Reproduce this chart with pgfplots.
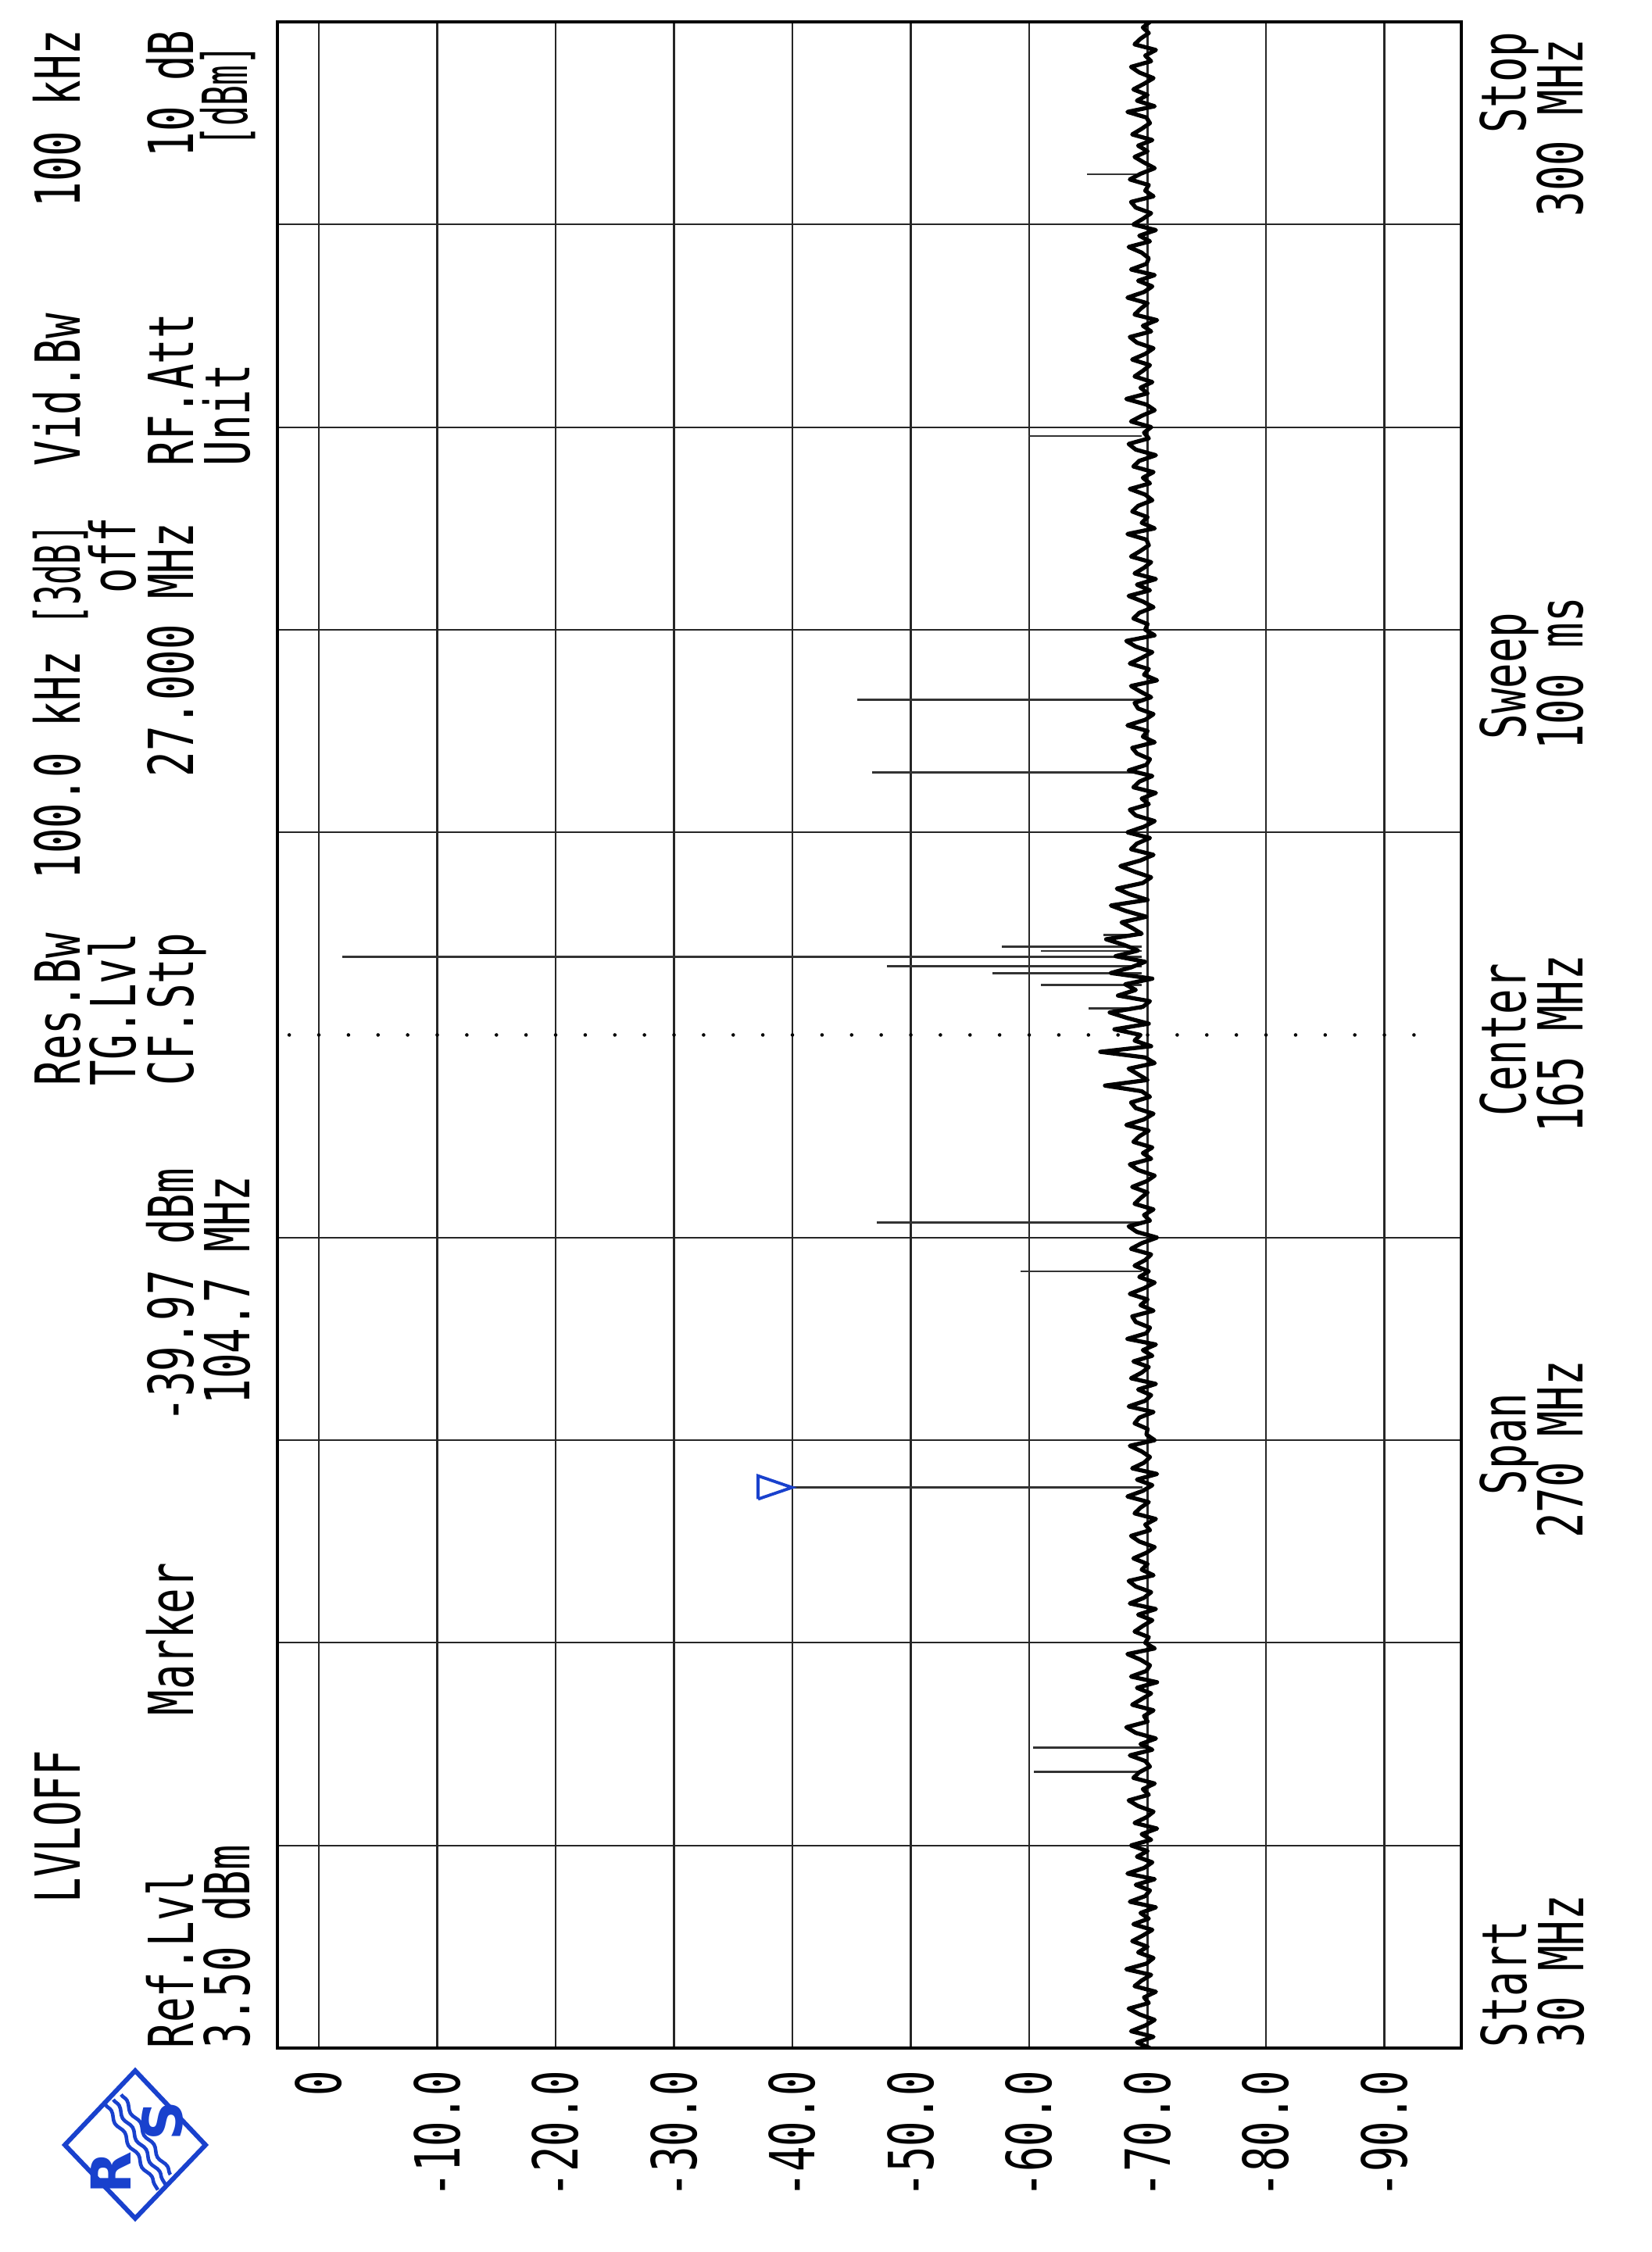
\documentclass[border=0pt]{standalone}
\usepackage{fontspec}
\usepackage{pgfplots}
\pgfplotsset{compat=1.18}
\usepackage{pgfplotstable}
\usetikzlibrary{decorations.pathmorphing}
\newfontfamily\rsfont[FakeStretch=0.68]{DejaVu Sans Mono}
\newfontfamily\rsnarrow[FakeStretch=0.54]{DejaVu Sans Mono}
\newfontfamily\logofont{DejaVu Sans}
\newcommand\hfont{\rsfont\fontsize{22.6pt}{24pt}\selectfont}
\newcommand\nfont{\rsnarrow\fontsize{22.6pt}{24pt}\selectfont}
\definecolor{rsblue}{RGB}{25,65,205}

\pgfplotstableread[row sep=\\]{
f L\\
30 -70.2\\ 30.75 -69.1\\ 31.5 -70.5\\ 32.25 -68.6\\ 33 -69.8\\ 33.75 -70.6\\ 34.5 -69.3\\ 35.25 -68.4\\ 36 -70.1\\ 36.75 -69.7\\
37.5 -70.7\\ 38.25 -68.9\\ 39 -69.5\\ 39.75 -70.3\\ 40.5 -68.2\\ 41.25 -69.9\\ 42 -70.5\\ 42.75 -69.2\\ 43.5 -70.0\\ 44.25 -68.7\\
45 -69.6\\ 45.75 -70.4\\ 46.5 -68.8\\ 47.25 -70.1\\ 48 -69.4\\ 48.75 -70.7\\ 49.5 -68.5\\ 50.25 -69.8\\ 51 -70.2\\ 51.75 -69.0\\
52.5 -70.6\\ 53.25 -68.3\\ 54 -69.7\\ 54.75 -70.4\\ 55.5 -69.1\\ 56.25 -70.0\\ 57 -68.6\\ 57.75 -70.3\\ 58.5 -69.5\\ 59.25 -70.8\\
60 -68.9\\ 60.75 -69.9\\ 61.5 -70.5\\ 62.25 -69.2\\ 63 -68.4\\ 63.75 -70.1\\ 64.5 -69.6\\ 65.25 -70.6\\ 66 -68.8\\ 66.75 -69.3\\
67.5 -70.2\\ 68.25 -69.8\\ 69 -68.5\\ 69.75 -70.4\\ 70.5 -69.4\\ 71.25 -70.7\\ 72 -69.0\\ 72.75 -68.2\\ 73.5 -70.0\\ 74.25 -69.7\\
75 -70.5\\ 75.75 -68.7\\ 76.5 -69.5\\ 77.25 -70.3\\ 78 -69.1\\ 78.75 -70.8\\ 79.5 -68.6\\ 80.25 -69.9\\ 81 -70.2\\ 81.75 -69.4\\
82.5 -68.3\\ 83.25 -70.6\\ 84 -69.8\\ 84.75 -70.1\\ 85.5 -68.9\\ 86.25 -69.6\\ 87 -70.4\\ 87.75 -69.2\\ 88.5 -70.7\\ 89.25 -68.5\\
90 -69.7\\ 90.75 -70.3\\ 91.5 -69.0\\ 92.25 -68.4\\ 93 -70.5\\ 93.75 -69.5\\ 94.5 -70.0\\ 95.25 -68.8\\ 96 -69.9\\ 96.75 -70.6\\
97.5 -69.3\\ 98.25 -68.6\\ 99 -70.2\\ 99.75 -69.8\\ 100.5 -70.7\\ 101.25 -68.9\\ 102 -69.4\\ 102.75 -70.1\\ 103.5 -68.3\\ 104.25 -69.6\\
105 -70.4\\ 105.75 -69.1\\ 106.5 -70.8\\ 107.25 -68.7\\ 108 -69.7\\ 108.75 -70.2\\ 109.5 -69.5\\ 110.25 -68.5\\ 111 -70.6\\ 111.75 -69.9\\
112.5 -70.0\\ 113.25 -68.9\\ 114 -69.3\\ 114.75 -70.5\\ 115.5 -68.4\\ 116.25 -69.8\\ 117 -70.3\\ 117.75 -69.2\\ 118.5 -70.7\\ 119.25 -68.6\\
120 -69.5\\ 120.75 -70.1\\ 121.5 -68.8\\ 122.25 -70.4\\ 123 -69.6\\ 123.75 -70.7\\ 124.5 -68.3\\ 125.25 -69.9\\ 126 -70.2\\ 126.75 -69.0\\
127.5 -68.7\\ 128.25 -70.5\\ 129 -69.4\\ 129.75 -70.0\\ 130.5 -68.5\\ 131.25 -69.7\\ 132 -70.6\\ 132.75 -69.3\\ 133.5 -70.1\\ 134.25 -68.9\\
135 -69.8\\ 135.75 -70.3\\ 136.5 -68.6\\ 137.25 -69.5\\ 138 -70.8\\ 138.75 -69.1\\ 139.5 -68.4\\ 140.25 -70.2\\ 141 -69.7\\ 141.75 -70.5\\
142.5 -68.9\\ 143.25 -69.4\\ 144 -70.0\\ 144.75 -68.7\\ 145.5 -69.9\\ 146.25 -70.6\\ 147 -69.2\\ 147.75 -68.5\\ 148.5 -70.3\\ 149.25 -69.6\\
150 -70.4\\ 150.75 -68.8\\ 151.5 -69.3\\ 152.25 -70.1\\ 153 -68.2\\ 153.75 -69.7\\ 154.5 -70.5\\ 155.25 -69.0\\ 156 -68.6\\ 156.75 -70.2\\
157.5 -69.5\\ 158.25 -66.4\\ 159 -70.0\\ 159.75 -69.2\\ 160.5 -68.4\\ 161.25 -70.6\\ 162 -69.8\\ 162.75 -66.0\\ 163.5 -70.3\\ 164.25 -68.9\\
165 -69.4\\ 165.75 -67.2\\ 166.5 -70.1\\ 167.25 -68.3\\ 168 -66.8\\ 168.75 -69.6\\ 169.5 -70.2\\ 170.25 -67.5\\ 171 -69.0\\ 171.75 -68.1\\
172.5 -70.4\\ 173.25 -66.9\\ 174 -68.6\\ 174.75 -69.8\\ 175.5 -67.3\\ 176.25 -69.2\\ 177 -68.0\\ 177.75 -66.5\\ 178.5 -69.5\\ 179.25 -68.7\\
180 -67.8\\ 180.75 -69.9\\ 181.5 -68.2\\ 182.25 -66.9\\ 183 -70.0\\ 183.75 -68.5\\ 184.5 -67.4\\ 185.25 -69.6\\ 186 -70.3\\ 186.75 -68.9\\
187.5 -67.7\\ 188.25 -69.4\\ 189 -70.5\\ 189.75 -68.6\\ 190.5 -69.1\\ 191.25 -70.2\\ 192 -68.3\\ 192.75 -69.7\\ 193.5 -70.6\\ 194.25 -69.0\\
195 -68.5\\ 195.75 -70.1\\ 196.5 -69.5\\ 197.25 -70.7\\ 198 -68.8\\ 198.75 -69.3\\ 199.5 -70.4\\ 200.25 -68.4\\ 201 -69.9\\ 201.75 -70.2\\
202.5 -69.1\\ 203.25 -68.7\\ 204 -70.6\\ 204.75 -69.6\\ 205.5 -70.0\\ 206.25 -68.3\\ 207 -69.8\\ 207.75 -70.5\\ 208.5 -69.2\\ 209.25 -68.9\\
210 -70.3\\ 210.75 -69.4\\ 211.5 -68.6\\ 212.25 -70.8\\ 213 -69.7\\ 213.75 -70.1\\ 214.5 -68.5\\ 215.25 -69.5\\ 216 -70.4\\ 216.75 -69.0\\
217.5 -68.2\\ 218.25 -70.6\\ 219 -69.8\\ 219.75 -70.0\\ 220.5 -68.8\\ 221.25 -69.3\\ 222 -70.5\\ 222.75 -69.6\\ 223.5 -68.4\\ 224.25 -70.2\\
225 -69.1\\ 225.75 -70.7\\ 226.5 -68.9\\ 227.25 -69.7\\ 228 -70.3\\ 228.75 -68.6\\ 229.5 -69.4\\ 230.25 -70.1\\ 231 -69.9\\ 231.75 -68.3\\
232.5 -70.6\\ 233.25 -69.5\\ 234 -70.0\\ 234.75 -68.7\\ 235.5 -69.2\\ 236.25 -70.4\\ 237 -69.8\\ 237.75 -68.5\\ 238.5 -70.2\\ 239.25 -69.6\\
240 -70.5\\ 240.75 -68.8\\ 241.5 -69.3\\ 242.25 -70.7\\ 243 -69.0\\ 243.75 -68.4\\ 244.5 -70.1\\ 245.25 -69.7\\ 246 -70.3\\ 246.75 -68.6\\
247.5 -69.5\\ 248.25 -70.6\\ 249 -69.9\\ 249.75 -68.2\\ 250.5 -70.0\\ 251.25 -69.4\\ 252 -70.4\\ 252.75 -68.9\\ 253.5 -69.6\\ 254.25 -70.2\\
255 -68.7\\ 255.75 -69.8\\ 256.5 -70.5\\ 257.25 -69.1\\ 258 -68.5\\ 258.75 -70.3\\ 259.5 -69.6\\ 260.25 -70.8\\ 261 -68.9\\ 261.75 -69.4\\
262.5 -70.0\\ 263.25 -68.3\\ 264 -69.7\\ 264.75 -70.4\\ 265.5 -69.2\\ 266.25 -70.6\\ 267 -68.6\\ 267.75 -69.9\\ 268.5 -70.1\\ 269.25 -69.5\\
270 -68.4\\ 270.75 -70.2\\ 271.5 -69.3\\ 272.25 -70.7\\ 273 -68.8\\ 273.75 -69.6\\ 274.5 -70.3\\ 275.25 -69.0\\ 276 -68.6\\ 276.75 -70.5\\
277.5 -69.8\\ 278.25 -70.1\\ 279 -68.5\\ 279.75 -69.4\\ 280.5 -70.6\\ 281.25 -69.7\\ 282 -68.9\\ 282.75 -70.0\\ 283.5 -69.2\\ 284.25 -70.4\\
285 -68.7\\ 285.75 -69.5\\ 286.5 -70.2\\ 287.25 -69.9\\ 288 -68.3\\ 288.75 -70.6\\ 289.5 -69.1\\ 290.25 -70.0\\ 291 -68.8\\ 291.75 -69.7\\
292.5 -70.5\\ 293.25 -69.3\\ 294 -68.6\\ 294.75 -70.3\\ 295.5 -69.8\\ 296.25 -70.7\\ 297 -68.9\\ 297.75 -69.4\\ 298.5 -70.1\\ 299.25 -69.6\\
300 -70.2\\
}\noise

\pgfplotstableread[row sep=\\]{
f L\\
66.8 -69.5\\ 66.8 -60.4\\ nan nan\\
70.0 -69.8\\ 70.0 -60.3\\ nan nan\\
104.7 -69.6\\ 104.7 -39.97\\ nan nan\\
133.5 -69.5\\ 133.5 -59.3\\ nan nan\\
140.0 -69.7\\ 140.0 -47.1\\ nan nan\\
168.5 -69.5\\ 168.5 -65.0\\ nan nan\\
171.7 -69.5\\ 171.7 -61.0\\ nan nan\\
173.2 -69.5\\ 173.2 -56.9\\ nan nan\\
174.2 -69.5\\ 174.2 -48.0\\ nan nan\\
175.4 -69.5\\ 175.4 -2.0\\ nan nan\\
176.2 -69.5\\ 176.2 -61.0\\ nan nan\\
176.8 -69.5\\ 176.8 -57.7\\ nan nan\\
178.3 -69.5\\ 178.3 -66.3\\ nan nan\\
200.0 -69.5\\ 200.0 -46.7\\ nan nan\\
209.7 -69.5\\ 209.7 -45.5\\ nan nan\\
244.8 -69.5\\ 244.8 -59.9\\ nan nan\\
279.7 -69.5\\ 279.7 -64.9\\
}\spikes

\tikzset{
  hw/.style={rotate=90, anchor=base west, inner sep=0pt, font=\hfont},
  hc/.style={rotate=90, anchor=base, inner sep=0pt, font=\hfont},
  he/.style={rotate=90, anchor=base east, inner sep=0pt, font=\hfont},
}

\begin{document}
\begin{tikzpicture}
\path[use as bounding box] (0,0) rectangle (21.14,28.82);

\begin{axis}[
  at={(3.55cm,2.61cm)}, anchor=south west,
  width=15.15cm, height=25.93cm, scale only axis,
  xmin=-96.5, xmax=3.5, x dir=reverse,
  ymin=30, ymax=300,
  xtick={0,-10,-20,-30,-40,-50,-60,-70,-80,-90},
  xticklabels={0,-10.0,-20.0,-30.0,-40.0,-50.0,-60.0,-70.0,-80.0,-90.0},
  ytick={57,84,111,138,192,219,246,273},
  yticklabels={,,,,,,,},
  major tick length=0pt,
  xmajorgrids, ymajorgrids,
  major grid style={black!85, line width=0.6pt},
  axis line style={black, line width=0.9pt},
  xticklabel style={rotate=90, anchor=east, inner sep=0pt, font=\hfont},
  xticklabel shift=0.28cm,
]
\addplot[black, line width=1.3pt, line cap=round, dash pattern=on 0pt off 0.37875cm] coordinates {(2.5,165) (-95,165)};
\addplot[black!80, line width=0.8pt, unbounded coords=jump] table[x=L, y=f] {\spikes};
\addplot[black, line width=1.5pt, line join=round] table[x=L, y=f] {\noise};
\addplot[rsblue, line width=1.1pt, line join=miter] coordinates {(-37.1,103.15) (-37.1,106.25) (-39.97,104.7) (-37.1,103.15)};
\end{axis}

% header, rotated
\node[hw] at (1.02,4.46) {LVLOFF};
\node[hw] at (1.02,14.92) {Res.Bw};
\node[hw] at (1.02,17.56) {100.0 kHz {\nfont[3dB]}};
\node[hw] at (1.02,22.85) {Vid.Bw};
\node[hw] at (1.02,26.16) {100 kHz};
\node[hw] at (1.73,14.92) {TG.Lvl};
\node[hw] at (1.73,21.22) {off};
\node[hw] at (2.47,2.60) {Ref.Lvl};
\node[hw] at (2.47,6.86) {Marker};
\node[hw] at (2.47,10.61) {-39.97 dBm};
\node[hw] at (2.47,14.92) {CF.Stp};
\node[hw] at (2.47,18.87) {27.000 MHz};
\node[hw] at (2.47,22.85) {RF.Att};
\node[hw] at (2.47,26.80) {10 dB};
\node[hw] at (3.19,2.60) {3.50 dBm};
\node[hw] at (3.19,10.84) {104.7 MHz};
\node[hw] at (3.19,22.85) {Unit};
\node[hw, font=\nfont] at (3.16,26.94) {[dBm]};

% right side
\node[hw] at (19.53,2.61) {Start};
\node[hw] at (20.26,2.61) {30 MHz};
\node[hc] at (19.52,10.34) {Span};
\node[hc] at (20.25,10.27) {270 MHz};
\node[hc] at (19.52,15.51) {Center};
\node[hc] at (20.25,15.46) {165 MHz};
\node[hc] at (19.52,20.17) {Sweep};
\node[hc] at (20.25,20.20) {100 ms};
\node[he] at (19.52,28.42) {Stop};
\node[he] at (20.25,28.33) {300 MHz};

% logo
\draw[rsblue, line width=1.7pt, line join=miter] (0.83,1.37) -- (1.73,2.32) -- (2.63,1.37) -- (1.73,0.43) -- cycle;
\draw[rsblue, line width=1.3pt, decorate, decoration={snake, amplitude=0.7pt, segment length=0.33cm}] (1.35,1.885) -- (2.02,0.795);
\draw[rsblue, line width=1.3pt, decorate, decoration={snake, amplitude=0.7pt, segment length=0.33cm}] (1.45,1.95) -- (2.12,0.86);
\draw[rsblue, line width=1.3pt, decorate, decoration={snake, amplitude=0.7pt, segment length=0.33cm}] (1.55,2.015) -- (2.18,0.99);
\node[rotate=90, inner sep=0pt, text=rsblue, font=\logofont\bfseries\fontsize{20pt}{20pt}\selectfont] at (1.42,1.02) {R};
\node[rotate=90, inner sep=0pt, text=rsblue, font=\logofont\bfseries\fontsize{20pt}{20pt}\selectfont] at (2.08,1.68) {S};
\end{tikzpicture}
\end{document}
